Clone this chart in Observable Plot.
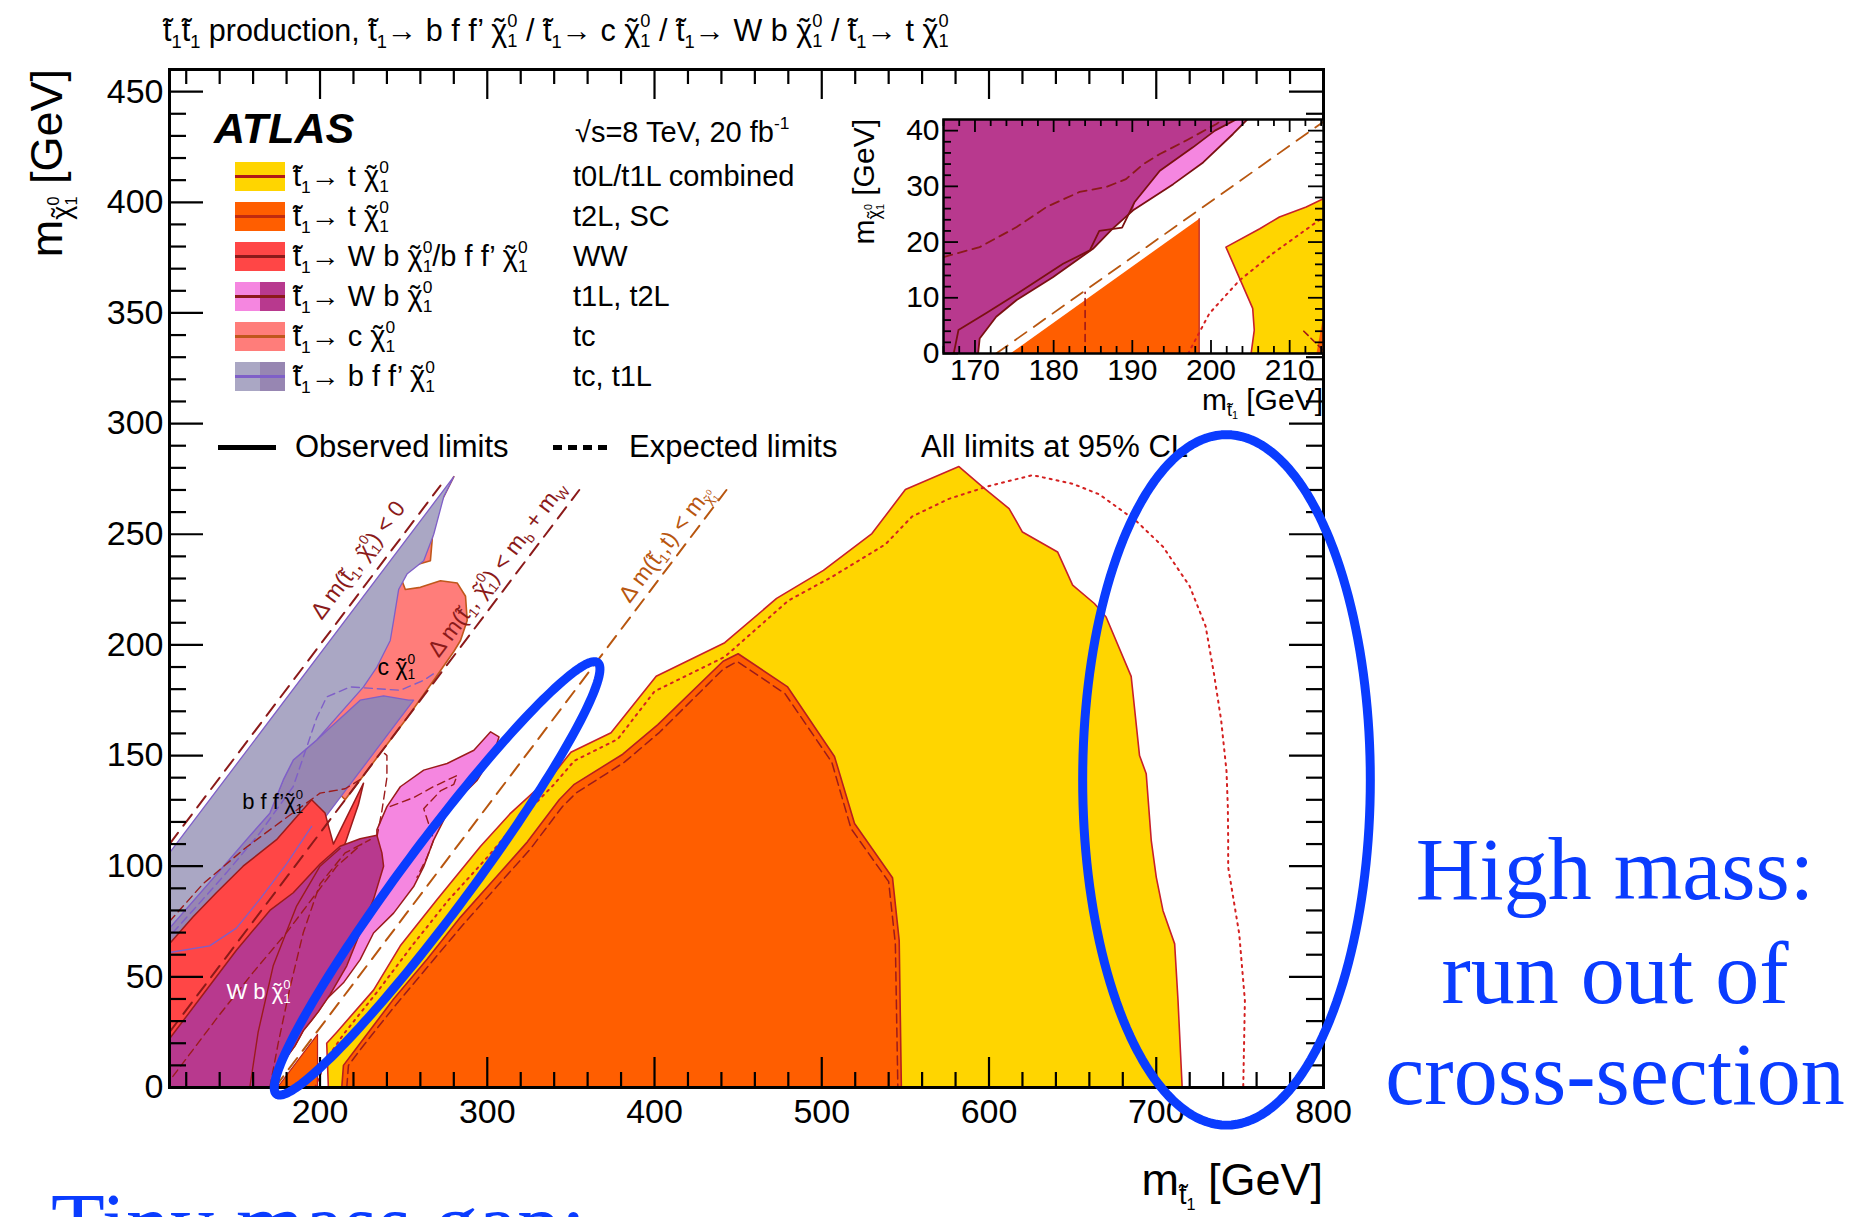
<!DOCTYPE html>
<html><head><meta charset="utf-8">
<script src="https://cdn.jsdelivr.net/npm/d3@7"></script>
<script src="https://cdn.jsdelivr.net/npm/@observablehq/plot@0.6"></script>
<style>
html,body{margin:0;padding:0;background:#fff}
#wrap{position:relative;width:1867px;height:1217px;overflow:hidden;background:#fff}
.layer{position:absolute;left:0;top:0}
.layer svg{max-width:none !important;display:block}
.t{position:absolute;white-space:nowrap;line-height:1;font-family:"Liberation Sans",Arial,Helvetica,sans-serif;color:#000}
.sup{font-size:.6em;vertical-align:.75em;line-height:0}
.sub{font-size:.6em;vertical-align:-.35em;line-height:0}
.tl{position:relative;display:inline-block;line-height:1}
.tl::after{content:"\02DC";position:absolute;left:0;top:0;width:100%;text-align:center;line-height:1}
.sw{position:absolute;height:29px}
</style></head>
<body><div id="wrap"></div>
<script>
// ---------------- data (m_stop, m_LSP) in GeV ----------------
const yellowObs = [[205,0],[204,20],[210,25],[232,44],[248,64],[270,85],[296,109],[314,124],[340,142],[350,151.5],[374,160.3],[401,185.8],[442,201],[473,221],[501,233.7],[530,250.3],[550,270.2],[582,280.6],[597,270.8],[612,261.6],[620,251],[641,242],[650,227],[663,218.7],[670,212.6],[685,185.8],[690,150],[694,141.8],[697,111.7],[700,95.1],[704,80],[711,64.9],[713,39.4],[715.5,0]];
const yellowExp = [[197,0],[204,13],[214,24],[235,44],[255,64],[276,84],[300,104],[318,120],[340,137],[352,147.6],[378,157.4],[400,179],[442,194.6],[480,220],[506,230.7],[538,245.4],[554,258],[576,266],[600,271.8],[626,276.7],[650,272.8],[666,268],[688,256],[704,244.4],[720,226.5],[729.5,208.5],[734.5,187],[738.8,166],[742,143],[742.8,126.7],[743,111.7],[743,99.6],[749.6,69.5],[753,39.3],[752,0]];
const orangeObs = [[213,0],[214,10],[224,20],[244,40],[264,58],[284,77],[304,94],[324,111],[343,130],[352,137],[381,150.6],[402,164],[441,192.6],[450,196],[479.6,181],[507.6,149.6],[519.6,119.3],[542.3,94.8],[546.3,66.5],[547.6,0]];
const orangeExp = [[216,0],[217,10],[226,19],[246,38],[266,56],[286,74],[306,91],[326,108],[345,127],[353,133],[382,147],[403,160.5],[441,189],[449.5,192.5],[478,178],[506,147],[517.5,117],[540,93],[544,65],[545.5,0]];
const orangeTri = [[174.5,0],[198.5,0],[198.5,24]];
const pinkObs = [[302,160.7],[307,158.4],[304,151],[294,138.9],[280,128.4],[276,123.9],[268,111.9],[262,99.8],[256,90.8],[244,78.8],[232,69.8],[224,57.8],[214,47.3],[204,40],[199,34.3],[195,30.4],[190,25.7],[185,18.8],[180,13.7],[175,9.6],[170.4,0],[200,60],[234,114],[234,116.4],[240,126.9],[248,135.9],[262,143.4],[276,146.4],[292,152.4]];
const magentaObs = [[110,0],[110,22],[130,42],[150,62],[170,80],[184,88],[200,101],[212,109],[224,112.4],[234,114],[237,106],[238,100],[232,85],[224,70],[216,55],[206,42],[199,34.3],[195,30.4],[190,25.7],[185,18.8],[180,13.7],[175,9.6],[170.4,0]];
const magentaObs2 = [[158,0],[163,25],[172,55],[186,82],[200,100],[212,108]];
const magentaExp1 = [[112,5],[125,18],[140,33],[160,52],[180,70],[195,85],[210,100],[225,110]];
const magentaExp2 = [[170,0],[175,20],[182,45],[190,70],[200,92],[215,106],[230,112]];
const pinkExp = [[242,127],[256,131],[268,136],[282,141],[280,137],[272,134],[262,126],[268,112],[264,104],[258,95]];
const redObs = [[110,20],[110,65],[124,77],[138,88],[154,100],[174,112],[188,124],[195,130],[203,124],[208,110],[226,137.5],[223,128],[214,108],[206,98]];
const redExp = [[110,75],[130,92],[155,108],[180,122],[200,133],[215,135],[226,140]];
const wwExp = [[234,113],[237,125],[240,140],[240,150],[237,152]];
const salmonObs = [[280,276],[268,258],[267,247],[266,238],[252,235],[248,231],[251,225],[260,226],[272,229],[282,228],[287,222],[288,211],[284,202],[280,197],[268,184],[252,167],[226,141],[215,130],[190,150]];
const greyLight = [[110,106],[280,276],[274,267],[268,250],[262,238],[252,232],[247,225],[244,211],[242,202],[234,190],[226,181],[198,157],[184,148],[178,139],[170,124],[156,112],[140,98],[125,85],[110,72]];
const greyDark = [[198,157],[224,175],[238,177],[253,175],[256,175],[110,29],[110,72],[125,85],[140,98],[156,112],[170,124],[178,139],[184,148]];
const purpleExp = [[112,70],[124,80],[144,97],[164,115],[184,136],[198,167],[204,176.5],[218,181],[248,179.5],[262,184],[268,187]];
const purpleObs2 = [[110,61],[134,64],[150,72],[165,86],[180,101],[195,118]];
// kinematic boundaries
const lineDm0 = [[110,110],[272,272]];
const lineDmW = [[110,25],[355,270]];
const lineDmT = [[173,0],[443,270]];

// inset data
const insetMagenta = [[166,0],[170.4,0],[170.6,2.7],[172.7,6.6],[175.3,9.6],[179.9,13.7],[185,18.8],[187.5,22.4],[190.1,25.7],[195.2,30.4],[199,34.3],[202.8,39.4],[204.6,42],[166,42]];
const insetPink = [[190.1,25.7],[195.2,30.4],[199,34.3],[202.8,39.4],[204.6,42],[203.2,42],[200.5,40],[197.7,37],[193.5,32.8],[190.3,27.2]];
const insetMagLine = [[167.3,0],[167.9,4.2],[171.5,7.3],[175.3,10.7],[181.2,16.1],[184.6,18.5],[185.8,22],[188.7,22.6],[190.3,27.2],[193.5,32.8],[197.7,37],[200.5,40],[203.2,42]];
const insetEdgeLine = [[170.4,0],[170.6,2.7],[172.7,6.6],[175.3,9.6],[179.9,13.7],[185,18.8],[187.5,22.4],[190.1,25.7],[195.2,30.4],[199,34.3],[202.8,39.4],[204.6,42]];
const insetMagExp = [[166,17.3],[170.6,19.1],[175.3,22.7],[179.1,26.3],[183.3,29],[186.7,29.9],[189.2,31.3],[191.4,34],[193.5,35.8],[196.8,38.2],[200.7,41.2],[201.5,42]];
const insetOrange = [[174.5,0],[198.5,0],[198.5,24.2]];
const insetOrange2 = [[213.4,0],[214.3,0],[214.3,7]];
const insetOrangeExp = [[184,0],[184,11]];
const insetOrangeExp2 = [[211.8,4],[214.3,0.5]];
const insetYellow = [[205.1,0],[205.5,4.2],[205.3,8.1],[201.9,19.1],[206.2,22.4],[208.7,24.5],[212.1,26.3],[214.3,27.8],[214.3,0]];
const insetYellowExp = [[197.1,0],[199.8,7.2],[203.6,13.1],[207.8,17.9],[214.3,24.5]];
const insetLineDmT = [[172.7,0],[214.3,41.6]];

// ticks
const xMajor = [200,300,400,500,600,700,800];
const yMajor = [0,50,100,150,200,250,300,350,400,450];
const xMinor = d3.range(120, 800, 20).filter(v => v % 100 !== 0);
const yMinor = d3.range(10, 460, 10).filter(v => v % 50 !== 0);
const insetXMajor = [170,180,190,200,210];
const insetYMajor = [0,10,20,30,40];
const insetXMinor = d3.range(166, 215, 2).filter(v => v % 10 !== 0);
const insetYMinor = d3.range(2, 42, 2).filter(v => v % 10 !== 0);

// annotations
const highMassEllipse = {cx: 742, cy: 139, rx: 86, ry: 156};
const gapEllipse = {tipA: [174, -3], tipB: [366, 192], halfWidthPx: 34};

// colours
const C = {yellow:"#ffd500", orange:"#ff5e00", red:"#ff4646", pink:"#f586e0", magenta:"#b8398e",
  salmon:"#ff7d7a", greyL:"#aaa7c4", greyD:"#9786b2", dkred:"#9b1b1b", yEdge:"#c8202a",
  oEdge:"#b81e1e", sEdge:"#c0571b", purple:"#7f5fc8", brown:"#b8560f", blue:"#0a3cff"};

// ---------------- layout ----------------
const W = 1867, H = 1217;
const mL = 169, mR = 544, mT = 69, mB = 130;
const xDomain = [110, 800], yDomain = [0, 460];
const plotW = W - mL - mR, plotH = H - mT - mB;
const xs = d3.scaleLinear(xDomain, [mL, W - mR]);
const ys = d3.scaleLinear(yDomain, [H - mB, mT]);
const wrap = document.getElementById("wrap");
const FONT = '"Liberation Sans", Arial, Helvetica, sans-serif';

function poly(data, fill, stroke, sw = 1.5, extra = {}) {
  return Plot.line(data, {fill, stroke, strokeWidth: sw, curve: "linear-closed", strokeLinejoin: "round", ...extra});
}
function path(data, stroke, dash, sw = 1.6, extra = {}) {
  return Plot.line(data, {stroke, strokeWidth: sw, strokeDasharray: dash, ...extra});
}
function frameTicks(xMaj, xMin, yMaj, yMin, pw, ph, L, sw) {
  const s = {stroke: "black", strokeWidth: sw};
  return [
    Plot.ruleX(xMaj, {x: d => d, insetTop: ph - L.xMaj, ...s}),
    Plot.ruleX(xMaj, {x: d => d, insetBottom: ph - L.xMaj, ...s}),
    Plot.ruleX(xMin, {x: d => d, insetTop: ph - L.xMin, ...s}),
    Plot.ruleX(xMin, {x: d => d, insetBottom: ph - L.xMin, ...s}),
    Plot.ruleY(yMaj, {y: d => d, insetRight: pw - L.yMaj, ...s}),
    Plot.ruleY(yMaj, {y: d => d, insetLeft: pw - L.yMaj, ...s}),
    Plot.ruleY(yMin, {y: d => d, insetRight: pw - L.yMin, ...s}),
    Plot.ruleY(yMin, {y: d => d, insetLeft: pw - L.yMin, ...s})
  ];
}
function layer(node, left, top, w, h, z) {
  const d = document.createElement("div");
  d.className = "layer";
  d.style.left = left + "px"; d.style.top = top + "px";
  d.style.width = w + "px"; d.style.height = h + "px"; d.style.zIndex = z;
  d.appendChild(node);
  wrap.appendChild(d);
  return d;
}

// ---------------- main plot ----------------
const main = Plot.plot({
  width: W, height: H, marginLeft: mL, marginRight: mR, marginTop: mT, marginBottom: mB,
  x: {domain: xDomain, axis: null}, y: {domain: yDomain, axis: null},
  style: {fontFamily: FONT, background: "transparent", overflow: "visible"},
  marks: [
    poly(salmonObs, C.salmon, C.sEdge, 1.6),
    poly(greyDark, C.greyD, C.purple, 1.3),
    poly(greyLight, C.greyL, C.purple, 1.3),
    path(purpleExp, C.purple, "8,5", 1.4),
    poly(redObs, C.red, C.dkred, 1.5),
    path(purpleObs2, C.purple, null, 1.3),
    path(redExp, C.dkred, "8,5", 1.4),
    poly(pinkObs, C.pink, C.dkred, 1.5),
    path(pinkExp, C.dkred, "8,5", 1.4),
    path(wwExp, C.dkred, "8,5", 1.4),
    poly(magentaObs, C.magenta, C.dkred, 1.5),
    path(magentaObs2, C.dkred, null, 1.4),
    path(magentaExp1, C.dkred, "8,5", 1.4),
    path(magentaExp2, C.dkred, "8,5", 1.4),
    poly(orangeTri, C.orange, C.oEdge, 1.2),
    poly(yellowObs, C.yellow, C.yEdge, 1.6),
    path(yellowExp, "#d42020", "2,5", 2),
    poly(orangeObs, C.orange, C.oEdge, 1.6),
    path(orangeExp, C.dkred, "9,5", 1.5),
    path(lineDm0, "#8b1a1a", "14,9", 2),
    path(lineDmW, "#8b1a1a", "14,9", 2),
    path(lineDmT, C.brown, "14,9", 2),
    ...frameTicks(xMajor, xMinor, yMajor, yMinor, plotW, plotH, {xMaj: 30, xMin: 15, yMaj: 34, yMin: 17}, 2.2),
    Plot.frame({stroke: "black", strokeWidth: 3}),
    Plot.text(xMajor, {x: d => d, frameAnchor: "bottom", lineAnchor: "middle", dy: 25, text: d => String(d), fontSize: 34, fill: "black"}),
    Plot.text(yMajor, {y: d => d, frameAnchor: "left", lineAnchor: "middle", dx: -6, textAnchor: "end", text: d => String(d), fontSize: 34, fill: "black"})
  ]
});
layer(main, 0, 0, W, H, 1);

// ---------------- inset plot ----------------
const iL = 843, iT = 100, iW = 500, iH = 330;
const imL = 100, imR = 20, imT = 19, imB = 77;
const inset = Plot.plot({
  width: iW, height: iH, marginLeft: imL, marginRight: imR, marginTop: imT, marginBottom: imB,
  x: {domain: [166, 214.3], axis: null}, y: {domain: [0, 42], axis: null},
  style: {fontFamily: FONT, background: "transparent", overflow: "visible"},
  marks: [
    Plot.frame({fill: "white", stroke: null}),
    poly(insetMagenta, C.magenta, null, 0, {clip: true}),
    poly(insetPink, C.pink, null, 0, {clip: true}),
    path(insetMagLine, "#7a1010", null, 1.8, {clip: true}),
    path(insetEdgeLine, "#7a1010", null, 1.8, {clip: true}),
    path(insetMagExp, "#8b1a1a", "9,6", 1.8, {clip: true}),
    poly(insetOrange, C.orange, null, 0, {clip: true}),
    path([[198.5,0],[198.5,24.2]], "#c0302a", null, 1.4, {clip: true}),
    path(insetOrangeExp, "#a01818", "7,5", 1.6, {clip: true}),
    poly(insetYellow, C.yellow, C.yEdge, 1.6, {clip: true}),
    poly(insetOrange2, C.orange, null, 0, {clip: true}),
    path(insetOrangeExp2, "#a01818", "6,4", 1.6, {clip: true}),
    path(insetYellowExp, "#d42020", "2,5", 2, {clip: true}),
    path(insetLineDmT, C.brown, "14,9", 1.8, {clip: true}),
    ...frameTicks(insetXMajor, insetXMinor, insetYMajor, insetYMinor, iW - imL - imR, iH - imT - imB, {xMaj: 13, xMin: 7, yMaj: 15, yMin: 8}, 1.8),
    Plot.frame({stroke: "black", strokeWidth: 2.5}),
    Plot.text(insetXMajor, {x: d => d, frameAnchor: "bottom", lineAnchor: "middle", dy: 17, text: d => String(d), fontSize: 30, fill: "black"}),
    Plot.text(insetYMajor, {y: d => d, frameAnchor: "left", lineAnchor: "middle", dx: -4, textAnchor: "end", text: d => String(d), fontSize: 30, fill: "black"})
  ]
});
layer(inset, iL, iT, iW, iH, 2);

// ---------------- rich text ----------------
const tt = '<span class="tl">t</span>';
const chiT = '<span class="tl">\u03c7</span>';
const tl = tt + '<span class="sub">1</span>';
const chi = chiT + '<span class="sup">0</span><span class="sub" style="margin-left:-.556em">1</span>';
function place(html, x, y, o = {}) {
  const el = document.createElement("div");
  el.className = "t";
  el.innerHTML = html;
  el.style.fontSize = (o.size || 29) + "px";
  if (o.family) el.style.fontFamily = o.family;
  if (o.color) el.style.color = o.color;
  if (o.weight) el.style.fontWeight = o.weight;
  if (o.italic) el.style.fontStyle = "italic";
  el.style.left = x + "px"; el.style.top = y + "px";
  el.style.transformOrigin = "0 0";
  const tx = o.anchor === "end" ? "-100%" : o.anchor === "middle" ? "-50%" : "0";
  const ty = o.center ? "-50%" : (-(o.asc ?? 0.8465)) + "em";
  el.style.transform = (o.rotate ? `rotate(${o.rotate}deg) ` : "") + `translate(${tx}, ${ty})`;
  el.style.zIndex = o.z || 3;
  wrap.appendChild(el);
  return el;
}
function swatch(x, y, w, color, z = 3) {
  const d = document.createElement("div");
  d.className = "sw";
  d.style.left = x + "px"; d.style.top = y + "px"; d.style.width = w + "px"; d.style.background = color; d.style.zIndex = z;
  wrap.appendChild(d);
  return d;
}
function hline(x, y, w, h, bg, z = 4) {
  const d = document.createElement("div");
  d.style.cssText = `position:absolute;left:${x}px;top:${y}px;width:${w}px;height:${h}px;background:${bg};z-index:${z}`;
  wrap.appendChild(d);
}

// title
place(`${tl}${tl} production, ${tl}\u2192 b f f\u2019 ${chi} / ${tl}\u2192 c ${chi} / ${tl}\u2192 W b ${chi} / ${tl}\u2192 t ${chi}`, 163, 41, {size: 30.5});
// axis titles
const chiSub = `<span class="sub">${chiT}<span class="sup">0</span><span class="sub" style="margin-left:-.556em">1</span></span>`;
const tSub = `<span class="sub">${tt}<span class="sub">1</span></span>`;
place(`m${chiSub} [GeV]`, 62, 69, {size: 45, rotate: -90, anchor: "end"});
place(`m${tSub} [GeV]`, 1323, 1195, {size: 45, anchor: "end"});
// inset titles
place(`m${tSub} [GeV]`, 1323, 410, {size: 30, anchor: "end"});
place(`m${chiSub} [GeV]`, 874, 119, {size: 30, rotate: -90, anchor: "end"});

// legend block
place("ATLAS", 214, 143, {size: 43, weight: "bold", italic: true});
place(`\u221as=8 TeV, 20 fb<span class="sup">-1</span>`, 575, 143, {size: 29});
const legendRows = [
  {fill: [C.yellow], line: "#b01818", label: `${tl}\u2192 t ${chi}`, ana: "t0L/t1L combined"},
  {fill: [C.orange], line: "#c02a10", label: `${tl}\u2192 t ${chi}`, ana: "t2L, SC"},
  {fill: [C.red], line: "#8b1a1a", label: `${tl}\u2192 W b ${chi}/b f f\u2019 ${chi}`, ana: "WW"},
  {fill: [C.pink, C.magenta], line: "#8b1a1a", label: `${tl}\u2192 W b ${chi}`, ana: "t1L, t2L"},
  {fill: [C.salmon], line: C.sEdge, label: `${tl}\u2192 c ${chi}`, ana: "tc"},
  {fill: [C.greyL, C.greyD], line: C.purple, label: `${tl}\u2192 b f f\u2019 ${chi}`, ana: "tc, t1L"}
];
legendRows.forEach((r, i) => {
  const cy = 176.5 + 40 * i;
  if (r.fill.length === 1) swatch(235, cy - 14.5, 50, r.fill[0]);
  else { swatch(235, cy - 14.5, 25, r.fill[0]); swatch(260, cy - 14.5, 25, r.fill[1]); }
  hline(235, cy - 1.5, 50, 3, r.line);
  place(r.label, 293, cy + 10, {size: 29});
  place(r.ana, 573, cy + 10, {size: 29});
});
hline(218, 445, 58, 5, "#000");
place("Observed limits", 295, 457, {size: 31});
hline(553, 445, 54, 5, "repeating-linear-gradient(90deg,#000 0 9px,transparent 9px 15px)");
place("Expected limits", 629, 457, {size: 31});
place("All limits at 95% CL", 921, 457, {size: 31});

// in-plot labels
place(`\u0394 m(${tl}, ${chi}) &lt; 0`, xs(223), ys(238), {size: 23, rotate: -53, anchor: "middle", center: true, color: "#8b1a1a"});
place(`\u0394 m(${tl}, ${chi}) &lt; m<span class="sub">b</span> + m<span class="sub">W</span>`, xs(306), ys(234), {size: 23, rotate: -53, anchor: "middle", center: true, color: "#8b1a1a"});
place(`\u0394 m(${tl},t) &lt; m${chiSub}`, xs(408), ys(245), {size: 23, rotate: -53, anchor: "middle", center: true, color: C.brown});
place(`b f f\u2019${chi}`, xs(172), ys(129), {size: 22, anchor: "middle", center: true});
place(`c ${chi}`, xs(246), ys(190), {size: 23, anchor: "middle", center: true});
place(`W b ${chi}`, xs(163.5), ys(43), {size: 22, anchor: "middle", center: true, color: "#fff"});

// ---------------- annotation overlay ----------------
function axisEllipse(e) {
  return d3.range(0, 362, 2).map(deg => {
    const t = deg * Math.PI / 180;
    return [e.cx + e.rx * Math.cos(t), e.cy + e.ry * Math.sin(t)];
  });
}
function tiltedEllipse(e) {
  const ax = xs(e.tipA[0]), ay = ys(e.tipA[1]), bx = xs(e.tipB[0]), by = ys(e.tipB[1]);
  const cx = (ax + bx) / 2, cy = (ay + by) / 2, a = Math.hypot(bx - ax, by - ay) / 2, th = Math.atan2(by - ay, bx - ax);
  return d3.range(0, 362, 2).map(deg => {
    const t = deg * Math.PI / 180, px = a * Math.cos(t), py = e.halfWidthPx * Math.sin(t);
    return [xs.invert(cx + px * Math.cos(th) - py * Math.sin(th)), ys.invert(cy + px * Math.sin(th) + py * Math.cos(th))];
  });
}
const overlay = Plot.plot({
  width: W, height: H, marginLeft: mL, marginRight: mR, marginTop: mT, marginBottom: mB,
  x: {domain: xDomain, axis: null}, y: {domain: yDomain, axis: null},
  style: {background: "transparent", overflow: "visible"},
  marks: [
    Plot.line(axisEllipse(highMassEllipse), {stroke: C.blue, strokeWidth: 9, curve: "linear-closed"}),
    Plot.line(tiltedEllipse(gapEllipse), {stroke: C.blue, strokeWidth: 9, curve: "linear-closed"})
  ]
});
const ov = layer(overlay, 0, 0, W, H, 10);
ov.style.pointerEvents = "none";

const SERIF = '"Liberation Serif", "Times New Roman", Times, serif';
place("High mass:", 1615, 900, {size: 88, family: SERIF, color: C.blue, anchor: "middle", asc: 0.8375, z: 11});
place("run out of", 1615, 1004, {size: 88, family: SERIF, color: C.blue, anchor: "middle", asc: 0.8375, z: 11});
place("cross-section", 1615, 1105, {size: 88, family: SERIF, color: C.blue, anchor: "middle", asc: 0.8375, z: 11});
place("Tiny mass gap:", 51, 1255, {size: 88, family: SERIF, color: C.blue, asc: 0.8375, z: 11});
</script></body></html>
